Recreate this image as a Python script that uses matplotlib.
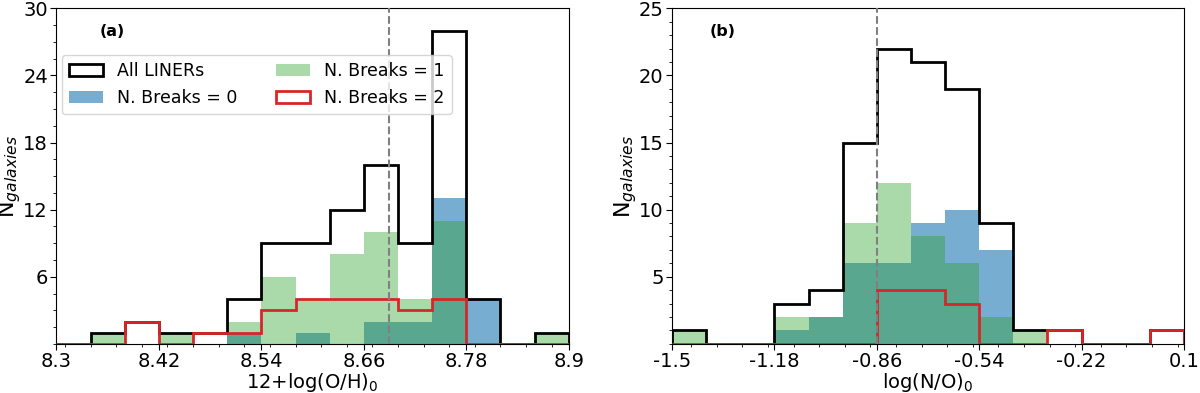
import numpy as np
import matplotlib
matplotlib.use('Agg')
import matplotlib.pyplot as plt
from matplotlib.ticker import MultipleLocator

# bins for 12+log(O/H)_0, panel (a)
oh_edges = np.linspace(8.3, 8.9, 16)
oh_all = [0, 1, 2, 1, 1, 4, 9, 9, 12, 16, 9, 28, 4, 0, 1]
oh_b0 = [0, 0, 0, 0, 0, 1, 0, 1, 0, 2, 2, 13, 4, 0, 0]
oh_b1 = [0, 1, 0, 1, 0, 2, 6, 4, 8, 10, 4, 11, 0, 0, 1]
oh_b2 = [0, 0, 2, 0, 1, 1, 3, 4, 4, 4, 3, 4, 0, 0, 0]
oh_ticks = [8.3, 8.42, 8.54, 8.66, 8.78, 8.9]
oh_line = 8.69

# bins for log(N/O)_0, panel (b)
no_edges = np.linspace(-1.5, 0.1, 16)
no_all = [1, 0, 0, 3, 4, 15, 22, 21, 19, 9, 1, 1, 0, 0, 1]
no_b0 = [0, 0, 0, 1, 2, 6, 6, 9, 10, 7, 0, 0, 0, 0, 0]
no_b1 = [1, 0, 0, 2, 2, 9, 12, 8, 6, 2, 1, 0, 0, 0, 0]
no_b2 = [0, 0, 0, 0, 0, 0, 4, 4, 3, 0, 0, 1, 0, 0, 1]
no_ticks = [-1.5, -1.18, -0.86, -0.54, -0.22, 0.1]
no_line = -0.86

plt.rcParams['font.family'] = ['DejaVu Sans']
fs = 14

fig = plt.figure(figsize=(12, 3.93), dpi=100)
ax1 = fig.add_axes([0.047, 0.125, 0.427, 0.854])
ax2 = fig.add_axes([0.56, 0.125, 0.4267, 0.854])


def panel(ax, edges, h_all, h0, h1, h2, vline):
    mids = (edges[:-1] + edges[1:]) / 2
    ax.hist(mids, bins=edges, weights=h_all, histtype='step', color='black',
            lw=2, label='All LINERs', zorder=3)
    ax.hist(mids, bins=edges, weights=h0, color='tab:blue', alpha=0.6,
            label='N. Breaks = 0', zorder=1)
    ax.hist(mids, bins=edges, weights=h1, color='tab:green', alpha=0.4,
            label='N. Breaks = 1', zorder=2)
    ax.hist(mids, bins=edges, weights=h2, histtype='step', color='tab:red',
            lw=2, label='N. Breaks = 2', zorder=4)
    ax.axvline(vline, color='gray', ls='--', lw=1.5, zorder=5)
    ax.set_xlim(edges[0], edges[-1])
    ax.tick_params(labelsize=fs, length=4, pad=2)
    ax.tick_params(which='minor', length=2)
    ax.set_ylabel('N$_{galaxies}$', fontsize=16, labelpad=0)


panel(ax1, oh_edges, oh_all, oh_b0, oh_b1, oh_b2, oh_line)
ax1.set_ylim(0, 30)
ax1.set_yticks([6, 12, 18, 24, 30])
ax1.yaxis.set_minor_locator(MultipleLocator(1.5))
ax1.set_xticks(oh_ticks)
ax1.set_xticklabels(['8.3', '8.42', '8.54', '8.66', '8.78', '8.9'])
ax1.xaxis.set_minor_locator(MultipleLocator(0.03))
ax1.set_xlabel('12+log(O/H)$_0$', fontsize=fs, labelpad=0)
ax1.text(0.085, 0.93, '(a)', transform=ax1.transAxes, fontsize=11.5,
         fontweight='bold', va='center')
ax1.legend(ncol=2, loc='upper left', bbox_to_anchor=(0.0, 0.875),
           fontsize=12.5, columnspacing=2.2, handlelength=2.0,
           borderaxespad=0.3)

panel(ax2, no_edges, no_all, no_b0, no_b1, no_b2, no_line)
ax2.set_ylim(0, 25)
ax2.set_yticks([5, 10, 15, 20, 25])
ax2.yaxis.set_minor_locator(MultipleLocator(1))
ax2.set_xticks(no_ticks)
ax2.set_xticklabels(['-1.5', '-1.18', '-0.86', '-0.54', '-0.22', '0.1'])
ax2.xaxis.set_minor_locator(MultipleLocator(0.08))
ax2.set_xlabel('log(N/O)$_0$', fontsize=fs, labelpad=0)
ax2.text(0.074, 0.93, '(b)', transform=ax2.transAxes, fontsize=11.5,
         fontweight='bold', va='center')

fig.savefig('out.png', dpi=100)
